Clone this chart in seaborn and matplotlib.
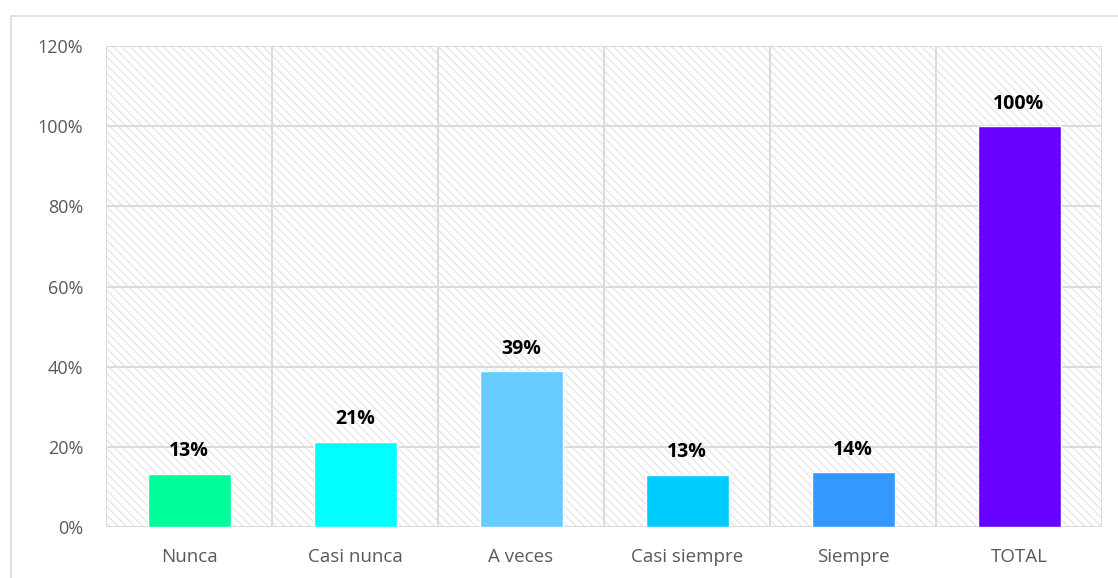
import matplotlib
matplotlib.use("Agg")
import matplotlib.pyplot as plt
import seaborn as sns
import pandas as pd
from matplotlib.patches import Rectangle
from matplotlib.ticker import FuncFormatter, FixedLocator

categories = ["Nunca", "Casi nunca", "A veces", "Casi siempre", "Siempre", "TOTAL"]
values = [0.133, 0.213, 0.389, 0.130, 0.136, 1.00]
colors = ["#00FF99", "#00FFFF", "#66CCFF", "#00CCFF", "#3399FF", "#6600FF"]
yticks = [0, 0.2, 0.4, 0.6, 0.8, 1.0, 1.2]

sns.set_theme(style="white")
plt.rcParams["font.family"] = ["Open Sans", "DejaVu Sans"]
plt.rcParams["hatch.linewidth"] = 0.7

df = pd.DataFrame({"cat": categories, "val": values})

fig = plt.figure(figsize=(11.18, 5.78), dpi=100)
fig.patch.set_facecolor("white")
# outer chart frame
fig.add_artist(Rectangle((11 / 1118, -0.01), 1.02, 1 - 16 / 578 + 0.01,
                         transform=fig.transFigure, fill=False,
                         edgecolor="#d9d9d9", linewidth=1.2))

ax = fig.add_axes([106 / 1118, 1 - 527 / 578, (1102 - 106) / 1118, (527 - 46) / 578])
ax.set_facecolor("white")
# hatched background
ax.add_patch(Rectangle((0, 0), 1, 1, transform=ax.transAxes, facecolor="white",
                       edgecolor="#dedede", hatch="\\\\\\\\", linewidth=0, zorder=0))

sns.barplot(data=df, x="cat", y="val", hue="cat", palette=colors, legend=False,
            width=0.5, saturation=1, ax=ax, zorder=3)

for cont in ax.containers:
    ax.bar_label(cont, labels=[f"{v * 100:.0f}%" for v in cont.datavalues],
                 padding=9, fontsize=14, fontweight="bold", color="black")

ax.set_ylim(0, 1.2)
ax.set_xlim(-0.5, len(categories) - 0.5)
ax.yaxis.set_major_locator(FixedLocator(yticks))
ax.yaxis.set_major_formatter(FuncFormatter(lambda v, p: f"{v * 100:.0f}%"))
ax.xaxis.set_minor_locator(FixedLocator([i - 0.5 for i in range(len(categories) + 1)]))
ax.grid(axis="y", which="major", color="#d9d9d9", linewidth=1.3, zorder=1)
ax.grid(axis="x", which="minor", color="#d9d9d9", linewidth=1.3, zorder=1)
ax.grid(axis="x", which="major", visible=False)
ax.set_axisbelow(True)
for s in ax.spines.values():
    s.set_visible(False)
ax.tick_params(axis="both", which="both", length=0, labelcolor="#595959")
ax.tick_params(axis="x", labelsize=13.5, pad=15)
ax.tick_params(axis="y", labelsize=13, pad=16.5)
ax.set_xlabel("")
ax.set_ylabel("")

fig.savefig("out.png", dpi=100, facecolor="white")
